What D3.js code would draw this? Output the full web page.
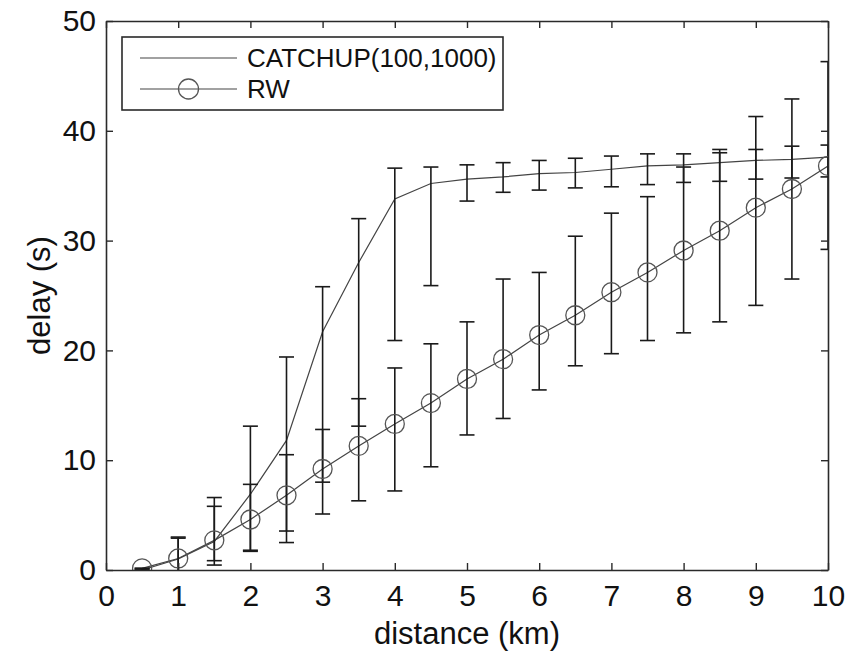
<!DOCTYPE html>
<html>
<head>
<meta charset="utf-8">
<script src="https://cdn.jsdelivr.net/npm/d3@7"></script>
<style>
  html, body { margin: 0; padding: 0; background: #fff; }
  svg text { font-family: "Liberation Sans", Arial, sans-serif; fill: #111; }
</style>
</head>
<body>
<div id="chart"></div>
<script>
// distance (km) sampled every 0.5 km
const distance = [0.5, 1, 1.5, 2, 2.5, 3, 3.5, 4, 4.5, 5, 5.5, 6, 6.5, 7, 7.5, 8, 8.5, 9, 9.5, 10];

const catchupMean = [0.0, 1.0, 2.6, 6.9, 11.8, 21.7, 28.0, 33.8, 35.2, 35.6, 35.8, 36.1, 36.2, 36.5, 36.8, 36.9, 37.1, 37.3, 37.4, 37.6];
const catchupLow  = [0.0, -0.9, 0.45, 1.7, 3.55, 8.0, 13.1, 20.9, 25.9, 33.6, 34.4, 34.6, 34.8, 34.9, 35.1, 35.3, 35.4, 35.6, 35.7, 35.8];
const catchupHigh = [0.15, 3.0, 6.6, 13.1, 19.4, 25.8, 32.0, 36.6, 36.7, 36.9, 37.1, 37.3, 37.5, 37.7, 37.9, 37.9, 38.0, 38.3, 38.6, 38.7];

const rwMean = [0.15, 1.05, 2.7, 4.6, 6.8, 9.2, 11.3, 13.3, 15.2, 17.4, 19.2, 21.4, 23.2, 25.3, 27.1, 29.1, 30.9, 33.0, 34.7, 36.8];
const rwLow  = [0.0, -0.8, 0.85, 1.8, 2.5, 5.1, 6.3, 7.2, 9.4, 12.3, 13.8, 16.4, 18.6, 19.7, 20.9, 21.6, 22.6, 24.1, 26.5, 29.2];
const rwHigh = [0.15, 2.9, 5.8, 7.8, 10.5, 12.8, 15.6, 18.4, 20.6, 22.6, 26.5, 27.1, 30.4, 32.5, 34.0, 36.7, 38.3, 41.3, 42.9, 46.3];

const xTicks = [0, 1, 2, 3, 4, 5, 6, 7, 8, 9, 10];
const yTicks = [0, 10, 20, 30, 40, 50];
const seriesNames = ['CATCHUP(100,1000)', 'RW'];

const W = 847, H = 655;
const margin = { top: 21, right: 19, bottom: 85, left: 106 };
const width = W - margin.left - margin.right;
const height = H - margin.top - margin.bottom;

const svg = d3.select('#chart').append('svg')
    .attr('width', W)
    .attr('height', H);

const g = svg.append('g')
    .attr('transform', `translate(${margin.left},${margin.top})`);

g.append('defs').append('clipPath')
    .attr('id', 'clip')
    .append('rect')
    .attr('width', width)
    .attr('height', height);

const x = d3.scaleLinear().domain([0, 10]).range([0, width]);
const y = d3.scaleLinear().domain([0, 50]).range([height, 0]);

const toRows = (mean, lo, hi) => distance.map((d, i) => ({ d, m: mean[i], lo: lo[i], hi: hi[i] }));
const catchup = toRows(catchupMean, catchupLow, catchupHigh);
const rw = toRows(rwMean, rwLow, rwHigh);

const plot = g.append('g').attr('clip-path', 'url(#clip)');

const line = d3.line().x(r => x(r.d)).y(r => y(r.m));
const capHalf = 7.5;

function drawBars(rows) {
    const bars = plot.append('g')
        .attr('stroke', '#1a1a1a')
        .attr('stroke-width', 1.6)
        .attr('fill', 'none');
    bars.selectAll('.stem').data(rows).enter().append('line')
        .attr('x1', r => x(r.d)).attr('x2', r => x(r.d))
        .attr('y1', r => y(r.lo)).attr('y2', r => y(r.hi));
    bars.selectAll('.cap-hi').data(rows).enter().append('line')
        .attr('x1', r => x(r.d) - capHalf).attr('x2', r => x(r.d) + capHalf)
        .attr('y1', r => y(r.hi)).attr('y2', r => y(r.hi));
    bars.selectAll('.cap-lo').data(rows).enter().append('line')
        .attr('x1', r => x(r.d) - capHalf).attr('x2', r => x(r.d) + capHalf)
        .attr('y1', r => y(r.lo)).attr('y2', r => y(r.lo));
}

plot.append('path').datum(catchup)
    .attr('fill', 'none').attr('stroke', '#444').attr('stroke-width', 1.2)
    .attr('d', line);
plot.append('path').datum(rw)
    .attr('fill', 'none').attr('stroke', '#444').attr('stroke-width', 1.2)
    .attr('d', line);

drawBars(catchup);
drawBars(rw);

plot.selectAll('.rw-dot').data(rw).enter().append('circle')
    .attr('cx', r => x(r.d)).attr('cy', r => y(r.m))
    .attr('r', 9.5)
    .attr('fill', 'none').attr('stroke', '#555').attr('stroke-width', 1.3);

// axes box with inward ticks on all four sides
const tickLen = 7;
const axisColor = '#2a2a2a';

g.append('g').attr('transform', `translate(0,${height})`)
    .call(d3.axisBottom(x).tickValues(xTicks).tickSizeInner(-tickLen).tickSizeOuter(0).tickPadding(15).tickFormat(d3.format('d')))
    .call(a => a.selectAll('text').attr('font-size', 30).attr('fill', '#111').attr('font-family', '"Liberation Sans", Arial, sans-serif'));
g.append('g')
    .call(d3.axisTop(x).tickValues(xTicks).tickSizeInner(-tickLen).tickSizeOuter(0).tickFormat(''));
g.append('g')
    .call(d3.axisLeft(y).tickValues(yTicks).tickSizeInner(-tickLen).tickSizeOuter(0).tickPadding(10).tickFormat(d3.format('d')))
    .call(a => a.selectAll('text').attr('font-size', 30).attr('fill', '#111').attr('font-family', '"Liberation Sans", Arial, sans-serif'));
g.append('g').attr('transform', `translate(${width},0)`)
    .call(d3.axisRight(y).tickValues(yTicks).tickSizeInner(-tickLen).tickSizeOuter(0).tickFormat(''));

g.selectAll('.domain').attr('stroke', axisColor).attr('stroke-width', 1.6);
g.selectAll('.tick line').attr('stroke', axisColor).attr('stroke-width', 1.4);

// axis labels
g.append('text')
    .attr('x', width / 2).attr('y', height + 74)
    .attr('text-anchor', 'middle')
    .attr('font-size', 31)
    .text('distance (km)');
g.append('text')
    .attr('transform', `translate(${50 - margin.left},${height / 2}) rotate(-90)`)
    .attr('text-anchor', 'middle')
    .attr('font-size', 31)
    .text('delay (s)');

// legend
const legend = g.append('g').attr('transform', `translate(${122 - margin.left},${37 - margin.top})`);
legend.append('rect')
    .attr('width', 381).attr('height', 73)
    .attr('fill', '#fff').attr('stroke', axisColor).attr('stroke-width', 1.6);
seriesNames.forEach((name, i) => {
    const ly = 21 + i * 31;
    legend.append('line')
        .attr('x1', 18).attr('x2', 115).attr('y1', ly).attr('y2', ly)
        .attr('stroke', '#444').attr('stroke-width', 1.2);
    if (i === 1) {
        legend.append('circle')
            .attr('cx', 66.5).attr('cy', ly).attr('r', 10)
            .attr('fill', 'none').attr('stroke', '#555').attr('stroke-width', 1.3);
    }
    legend.append('text')
        .attr('x', 125).attr('y', ly + 9)
        .attr('font-size', 26)
        .text(name);
});
</script>
</body>
</html>
